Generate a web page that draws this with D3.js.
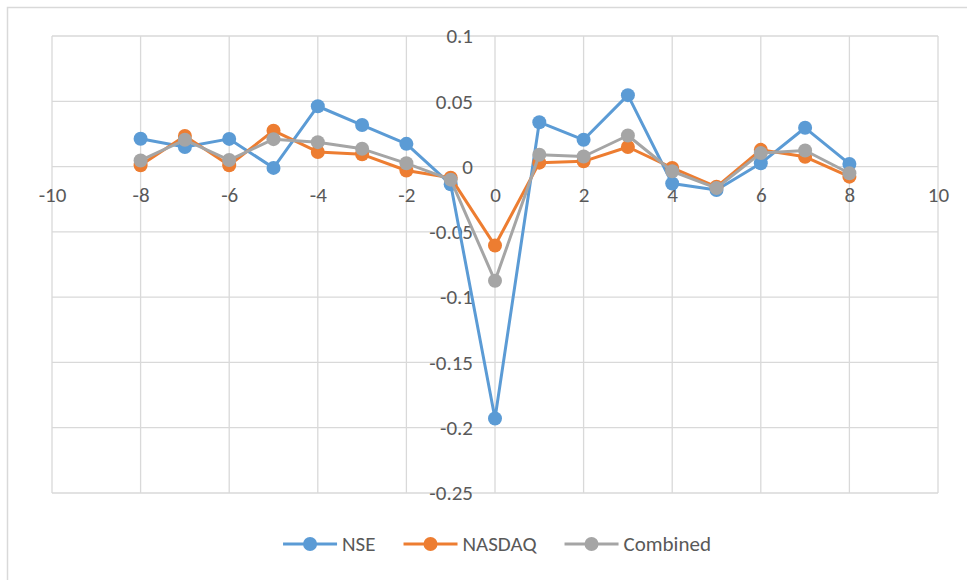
<!DOCTYPE html>
<html>
<head>
<meta charset="utf-8">
<script src="https://cdn.jsdelivr.net/npm/d3@7"></script>
<style>
  html, body { margin: 0; padding: 0; background: #fff; }
  svg { display: block; }
  text { font-family: Calibri, Carlito, Lato, sans-serif; fill: #595959; }
</style>
</head>
<body>
<svg id="chart" width="967" height="580"></svg>
<script>
const xValues = [-8, -7, -6, -5, -4, -3, -2, -1, 0, 1, 2, 3, 4, 5, 6, 7, 8];
const nse      = [0.0213, 0.0150, 0.0212, -0.0010, 0.0462, 0.0318, 0.0174, -0.0136, -0.1930, 0.0340, 0.0205, 0.0547, -0.0130, -0.0180, 0.0025, 0.0297, 0.0020];
const nasdaq   = [0.0010, 0.0235, 0.0010, 0.0275, 0.0112, 0.0094, -0.0030, -0.0085, -0.0605, 0.0030, 0.0040, 0.0150, -0.0010, -0.0155, 0.0128, 0.0075, -0.0077];
const combined = [0.0047, 0.0205, 0.0050, 0.0210, 0.0187, 0.0136, 0.0025, -0.0100, -0.0875, 0.0090, 0.0077, 0.0238, -0.0036, -0.0165, 0.0103, 0.0123, -0.0051];
const seriesNames = ["NSE", "NASDAQ", "Combined"];
const seriesColors = ["#5b9bd5", "#ed7d31", "#a5a5a5"];
const xTicks = [-10, -8, -6, -4, -2, 0, 2, 4, 6, 8, 10];
const yTicks = [0.1, 0.05, 0, -0.05, -0.1, -0.15, -0.2, -0.25];

const svg = d3.select("#chart");
const FS = 21;

// outer chart border
svg.append("rect").attr("x", 7.5).attr("y", 7.5).attr("width", 1000).attr("height", 1000)
  .attr("fill", "none").attr("stroke", "#d9d9d9").attr("stroke-width", 1.5);

const x = d3.scaleLinear().domain([-10, 10]).range([52, 938]);
const y = d3.scaleLinear().domain([-0.25, 0.1]).range([493, 36]);

const grid = svg.append("g");
grid.selectAll("line.v").data(xTicks).join("line")
  .attr("x1", d => x(d)).attr("x2", d => x(d))
  .attr("y1", y(0.1)).attr("y2", y(-0.25))
  .attr("stroke", "#d9d9d9").attr("stroke-width", 1.3);
grid.selectAll("line.h").data(yTicks).join("line")
  .attr("x1", x(-10)).attr("x2", x(10))
  .attr("y1", d => y(d)).attr("y2", d => y(d))
  .attr("stroke", "#d9d9d9").attr("stroke-width", 1.3);

// y axis labels (right-aligned, left of the vertical axis at x=0)
const yAxis = d3.axisLeft(y).tickValues(yTicks).tickSize(0).tickPadding(0)
  .tickFormat(d => String(+d.toFixed(2)));
const gy = svg.append("g").attr("transform", `translate(${x(0) - 22},0)`).call(yAxis);
gy.select(".domain").remove();
gy.selectAll("text").attr("font-size", FS).attr("fill", "#595959")
  .style("font-family", "Calibri, Carlito, Lato, sans-serif");

// x axis labels (below horizontal axis at y=0)
const xAxis = d3.axisBottom(x).tickValues(xTicks).tickSize(0).tickPadding(0)
  .tickFormat(d => String(d));
const gx = svg.append("g").attr("transform", `translate(0,${y(0) + 21})`).call(xAxis);
gx.select(".domain").remove();
gx.selectAll("text").attr("font-size", FS).attr("fill", "#595959")
  .style("font-family", "Calibri, Carlito, Lato, sans-serif");

// series
const allSeries = [nse, nasdaq, combined];
const line = d3.line().x((d, i) => x(xValues[i])).y(d => y(d));
allSeries.forEach((vals, si) => {
  const g = svg.append("g");
  g.append("path").datum(vals).attr("d", line)
    .attr("fill", "none").attr("stroke", seriesColors[si]).attr("stroke-width", 3)
    .attr("stroke-linejoin", "round");
  g.selectAll("circle").data(vals).join("circle")
    .attr("cx", (d, i) => x(xValues[i])).attr("cy", d => y(d)).attr("r", 7)
    .attr("fill", seriesColors[si]);
});

// legend
const legend = svg.append("g");
const legY = 544, lineLen = 54, textGap = 5, itemGap = 28;
const items = seriesNames.map((name, i) => {
  const g = legend.append("g");
  g.append("line").attr("x1", 0).attr("x2", lineLen).attr("y1", legY).attr("y2", legY)
    .attr("stroke", seriesColors[i]).attr("stroke-width", 3);
  g.append("circle").attr("cx", lineLen / 2).attr("cy", legY).attr("r", 7).attr("fill", seriesColors[i]);
  const t = g.append("text").attr("x", lineLen + textGap).attr("y", legY).attr("dy", "0.35em")
    .attr("font-size", FS).text(name);
  return { g, w: lineLen + textGap + t.node().getComputedTextLength() };
});
const total = d3.sum(items, d => d.w) + itemGap * (items.length - 1);
let cx = 497 - total / 2;
items.forEach(it => { it.g.attr("transform", `translate(${cx},0)`); cx += it.w + itemGap; });
</script>
</body>
</html>
